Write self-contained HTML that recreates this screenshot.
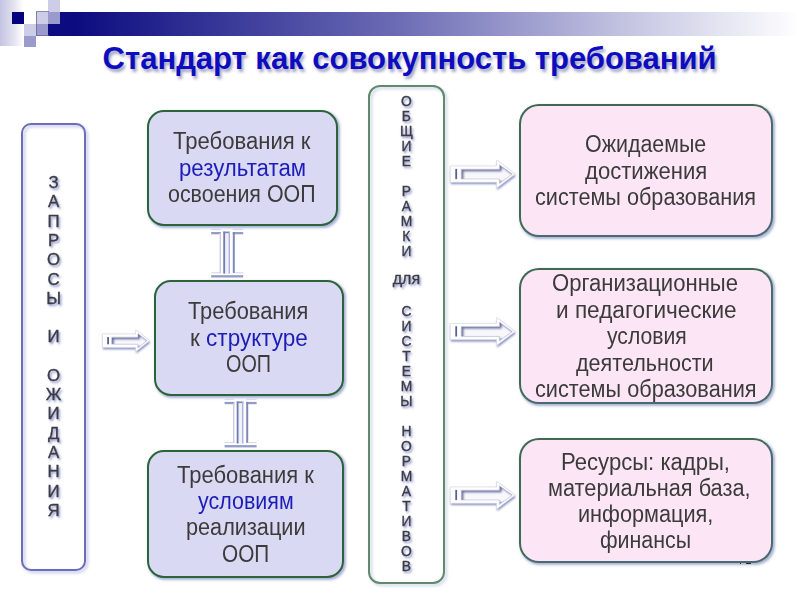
<!DOCTYPE html>
<html><head><meta charset="utf-8">
<style>
*{margin:0;padding:0;box-sizing:border-box}
html,body{width:800px;height:600px;overflow:hidden;background:#fff}
body{position:relative;font-family:"Liberation Sans",sans-serif}
.a{position:absolute}
.grad{left:0;top:0;width:23px;height:46px;background:linear-gradient(to right,#c4c4e2,#e2e2f0 60%,#fff)}
.sq{position:absolute;width:12px;height:12px}
.bar{left:60px;top:11.5px;width:740px;height:24px;background:linear-gradient(to right,#0c0c80 0%,#0c0c80 2%,#6a6ab4 45%,#c8c8e4 78%,#fff 100%)}
.title{top:41px;font-size:31px;font-weight:bold;color:#0d0dc0;text-shadow:2px 3px 3px rgba(90,90,150,.55);white-space:nowrap;line-height:36px}
.box{position:absolute;border-radius:17px;border:2px solid #2b6439;background:#d9d9f3;box-shadow:1.5px 1.5px 2.5px rgba(100,110,185,.55)}
.sh{position:absolute;border:2px solid rgba(140,150,210,.6);filter:blur(1.4px)}
.pink{background:#fce5f4;border-radius:20px;border-color:#3f6a50 #4a6a70 #4a6a70 #3f6a50;box-shadow:1.5px 1.5px 2.5px rgba(100,120,175,.55)}
.t{position:absolute;font-size:23.0px;line-height:1;color:#3b3b3b;white-space:pre;transform-origin:0 0}
.b{color:#1c1cb8}
.v{position:absolute;width:60px;text-align:center;line-height:1;color:#3c3c46;-webkit-text-stroke:0.35px #3c3c46;text-shadow:1.5px 2px 2.5px rgba(60,70,165,.7);transform:translateZ(0)}
</style></head><body>
<div class="a grad"></div>
<div class="a bar"></div>
<div class="sq" style="left:11.5px;top:12px;background:#03037e"></div>
<div class="sq" style="left:24px;top:24px;background:#cdcde8"></div>
<div class="sq" style="left:24px;top:36px;height:11px;background:#9a9acc"></div>
<div class="sq" style="left:36px;top:11.5px;background:#cdcde8"></div>
<div class="sq" style="left:36px;top:23.5px;background:#9a9acc"></div>
<div class="sq" style="left:48px;top:0;height:11.5px;background:#cdcde8"></div>
<div class="sq" style="left:48px;top:11.5px;background:#9a9acc"></div>
<div class="sq" style="left:48px;top:23.5px;background:#0c0c80"></div>
<div class="a" style="left:36px;top:11px;width:13px;height:25px;border:1px solid rgba(100,100,150,.75);border-right:none"></div>

<div class="a title" style="left:102.6px;">Стандарт как совокупность требований</div>

<div class="sh" style="left:23.4px;top:124.9px;width:64.7px;height:448.6px;border-radius:10px"></div>
<div class="a" style="left:21.2px;top:122.7px;width:64.7px;height:448.6px;border:2px solid #6c6cb8;border-radius:10px"></div>
<div class="box" style="left:146.9px;top:110px;width:191.5px;height:115.5px"></div>
<div class="box" style="left:153.7px;top:280.3px;width:190.6px;height:115.4px"></div>
<div class="box" style="left:147.3px;top:450.3px;width:197px;height:127.6px"></div>
<div class="sh" style="left:370px;top:87.2px;width:77.4px;height:498.9px;border-radius:12px;border-color:rgba(150,165,210,.55)"></div>
<div class="a" style="left:367.8px;top:85px;width:77.4px;height:498.9px;border:2px solid #5f8a6c;border-radius:12px"></div>
<div class="box pink" style="left:518.8px;top:104.1px;width:254.5px;height:133.2px"></div>
<div class="box pink" style="left:519px;top:268.3px;width:254px;height:135.7px"></div>
<div class="box pink" style="left:519.3px;top:438.3px;width:253.7px;height:124.4px"></div>

<div class="a" style="left:739.6px;top:562.6px;width:1.4px;height:1.4px;background:#1a2a28"></div>
<div class="a" style="left:746px;top:562.8px;width:4.6px;height:1.3px;background:#1a2a28;border-radius:1px"></div>
<div class="v" style="left:23.6px;top:175.13px;font-size:16.8px">З</div>
<div class="v" style="left:23.6px;top:194.41px;font-size:16.8px">А</div>
<div class="v" style="left:23.6px;top:213.69px;font-size:16.8px">П</div>
<div class="v" style="left:23.6px;top:232.97px;font-size:16.8px">Р</div>
<div class="v" style="left:23.6px;top:252.25px;font-size:16.8px">О</div>
<div class="v" style="left:23.6px;top:271.53px;font-size:16.8px">С</div>
<div class="v" style="left:23.6px;top:290.81px;font-size:16.8px">Ы</div>
<div class="v" style="left:23.6px;top:329.37px;font-size:16.8px">И</div>
<div class="v" style="left:23.6px;top:367.93px;font-size:16.8px">О</div>
<div class="v" style="left:23.6px;top:387.21px;font-size:16.8px">Ж</div>
<div class="v" style="left:23.6px;top:406.49px;font-size:16.8px">И</div>
<div class="v" style="left:23.6px;top:425.77px;font-size:16.8px">Д</div>
<div class="v" style="left:23.6px;top:445.05px;font-size:16.8px">А</div>
<div class="v" style="left:23.6px;top:464.33px;font-size:16.8px">Н</div>
<div class="v" style="left:23.6px;top:483.61px;font-size:16.8px">И</div>
<div class="v" style="left:23.6px;top:502.89px;font-size:16.8px">Я</div>
<div class="v m" style="left:376.4px;top:94.51px;font-size:13.8px">О</div>
<div class="v m" style="left:376.4px;top:109.52px;font-size:13.8px">Б</div>
<div class="v m" style="left:376.4px;top:124.53px;font-size:13.8px">Щ</div>
<div class="v m" style="left:376.4px;top:139.54px;font-size:13.8px">И</div>
<div class="v m" style="left:376.4px;top:154.55px;font-size:13.8px">Е</div>
<div class="v m" style="left:376.4px;top:184.57px;font-size:13.8px">Р</div>
<div class="v m" style="left:376.4px;top:199.58px;font-size:13.8px">А</div>
<div class="v m" style="left:376.4px;top:214.59px;font-size:13.8px">М</div>
<div class="v m" style="left:376.4px;top:229.60px;font-size:13.8px">К</div>
<div class="v m" style="left:376.4px;top:244.61px;font-size:13.8px">И</div>
<div class="v m" style="left:376.4px;top:271.43px;font-size:16px">для</div>
<div class="v m" style="left:376.4px;top:304.65px;font-size:13.8px">С</div>
<div class="v m" style="left:376.4px;top:319.66px;font-size:13.8px">И</div>
<div class="v m" style="left:376.4px;top:334.67px;font-size:13.8px">С</div>
<div class="v m" style="left:376.4px;top:349.68px;font-size:13.8px">Т</div>
<div class="v m" style="left:376.4px;top:364.69px;font-size:13.8px">Е</div>
<div class="v m" style="left:376.4px;top:379.70px;font-size:13.8px">М</div>
<div class="v m" style="left:376.4px;top:394.71px;font-size:13.8px">Ы</div>
<div class="v m" style="left:376.4px;top:424.73px;font-size:13.8px">Н</div>
<div class="v m" style="left:376.4px;top:439.74px;font-size:13.8px">О</div>
<div class="v m" style="left:376.4px;top:454.75px;font-size:13.8px">Р</div>
<div class="v m" style="left:376.4px;top:469.76px;font-size:13.8px">М</div>
<div class="v m" style="left:376.4px;top:484.77px;font-size:13.8px">А</div>
<div class="v m" style="left:376.4px;top:499.78px;font-size:13.8px">Т</div>
<div class="v m" style="left:376.4px;top:514.79px;font-size:13.8px">И</div>
<div class="v m" style="left:376.4px;top:529.80px;font-size:13.8px">В</div>
<div class="v m" style="left:376.4px;top:544.81px;font-size:13.8px">О</div>
<div class="v m" style="left:376.4px;top:559.82px;font-size:13.8px">В</div>
<div class="t" style="left:173.00px;top:130.00px;transform:scaleX(0.9597)">Требования к</div>
<div class="t" style="left:178.83px;top:157.00px;transform:scaleX(0.9667)"><span class="b">результатам</span></div>
<div class="t" style="left:168.27px;top:183.00px;transform:scaleX(0.9308)">освоения ООП</div>
<div class="t" style="left:188.20px;top:300.00px;transform:scaleX(0.9492)">Требования</div>
<div class="t" style="left:190.02px;top:327.00px;transform:scaleX(0.9782)">к <span class="b">структуре</span></div>
<div class="t" style="left:225.94px;top:353.00px;transform:scaleX(0.8600)">ООП</div>
<div class="t" style="left:177.00px;top:464.00px;transform:scaleX(0.9556)">Требования к</div>
<div class="t" style="left:198.40px;top:490.00px;transform:scaleX(0.9327)"><span class="b">условиям</span></div>
<div class="t" style="left:185.96px;top:516.00px;transform:scaleX(0.9424)">реализации</div>
<div class="t" style="left:222.30px;top:543.00px;transform:scaleX(0.9020)">ООП</div>
<div class="t" style="left:584.87px;top:133.00px;transform:scaleX(0.9302)">Ожидаемые</div>
<div class="t" style="left:584.80px;top:160.00px;transform:scaleX(0.9603)">достижения</div>
<div class="t" style="left:535.06px;top:186.00px;transform:scaleX(0.9412)">системы образования</div>
<div class="t" style="left:552.24px;top:272.00px;transform:scaleX(0.9599)">Организационные</div>
<div class="t" style="left:555.62px;top:299.00px;transform:scaleX(0.9813)">и педагогические</div>
<div class="t" style="left:606.50px;top:325.00px;transform:scaleX(0.9186)">условия</div>
<div class="t" style="left:576.10px;top:352.00px;transform:scaleX(0.9377)">деятельности</div>
<div class="t" style="left:534.66px;top:378.00px;transform:scaleX(0.9438)">системы образования</div>
<div class="t" style="left:561.08px;top:451.00px;transform:scaleX(0.9605)">Ресурсы: кадры,</div>
<div class="t" style="left:548.25px;top:477.00px;transform:scaleX(0.9455)">материальная база,</div>
<div class="t" style="left:578.36px;top:503.00px;transform:scaleX(0.9433)">информация,</div>
<div class="t" style="left:600.07px;top:529.00px;transform:scaleX(0.9302)">финансы</div>
<svg class="a" style="left:0;top:0" width="800" height="600" viewBox="0 0 800 600">
<defs><filter id="bl" x="-20%" y="-40%" width="140%" height="180%"><feGaussianBlur stdDeviation="1.1"/></filter>
<filter id="bl2" x="-50%" y="-50%" width="200%" height="200%"><feGaussianBlur stdDeviation="0.4"/></filter>
<filter id="bl3" x="-20%" y="-40%" width="140%" height="180%"><feGaussianBlur stdDeviation="0.9"/></filter></defs>
<path d="M450.2,165.9 L496.6,165.9 L496.6,160.0 L515.3,174.1 L496.6,188.2 L496.6,182.3 L450.2,182.3 Z" fill="#5a64ac" opacity=".75" filter="url(#bl)" transform="translate(0.6,1.8)"/>
<path d="M450.2,165.9 L496.6,165.9 L496.6,160.0 L515.3,174.1 L496.6,188.2 L496.6,182.3 L450.2,182.3 Z" fill="#fff" stroke="#d6d6e2" stroke-width=".7"/>
<clipPath id="c0"><path d="M461.2,169.2 L499.4,169.2 L499.4,164.7 L512.5,174.1 L499.4,183.5 L499.4,179.0 L461.2,179.0 Z"/></clipPath>
<g clip-path="url(#c0)"><path d="M461.2,169.2 L499.4,169.2 L499.4,164.7 L512.5,174.1 L499.4,183.5 L499.4,179.0 L461.2,179.0 Z" fill="#646c9c"/><path d="M461.2,169.2 L499.4,169.2 L499.4,164.7 L512.5,174.1 L499.4,183.5 L499.4,179.0 L461.2,179.0 Z" fill="#f7f7fc" transform="translate(2.2,2)" filter="url(#bl3)"/></g>
<path d="M461.2,169.2 L499.4,169.2 L499.4,164.7 L512.5,174.1 L499.4,183.5 L499.4,179.0 L461.2,179.0 Z" fill="none" stroke="#b8bbd2" stroke-width=".6"/>
<rect x="455.3" y="168.9" width="1.8" height="10.2" fill="#5a5f8c" filter="url(#bl2)"/>
<path d="M450.2,323.3 L496.6,323.3 L496.6,317.4 L515.3,331.5 L496.6,345.6 L496.6,339.7 L450.2,339.7 Z" fill="#5a64ac" opacity=".75" filter="url(#bl)" transform="translate(0.6,1.8)"/>
<path d="M450.2,323.3 L496.6,323.3 L496.6,317.4 L515.3,331.5 L496.6,345.6 L496.6,339.7 L450.2,339.7 Z" fill="#fff" stroke="#d6d6e2" stroke-width=".7"/>
<clipPath id="c1"><path d="M461.2,326.6 L499.4,326.6 L499.4,322.1 L512.5,331.5 L499.4,340.9 L499.4,336.4 L461.2,336.4 Z"/></clipPath>
<g clip-path="url(#c1)"><path d="M461.2,326.6 L499.4,326.6 L499.4,322.1 L512.5,331.5 L499.4,340.9 L499.4,336.4 L461.2,336.4 Z" fill="#646c9c"/><path d="M461.2,326.6 L499.4,326.6 L499.4,322.1 L512.5,331.5 L499.4,340.9 L499.4,336.4 L461.2,336.4 Z" fill="#f7f7fc" transform="translate(2.2,2)" filter="url(#bl3)"/></g>
<path d="M461.2,326.6 L499.4,326.6 L499.4,322.1 L512.5,331.5 L499.4,340.9 L499.4,336.4 L461.2,336.4 Z" fill="none" stroke="#b8bbd2" stroke-width=".6"/>
<rect x="455.3" y="326.3" width="1.8" height="10.2" fill="#5a5f8c" filter="url(#bl2)"/>
<path d="M450.2,486.9 L496.6,486.9 L496.6,481.1 L515.3,495.1 L496.6,509.2 L496.6,503.3 L450.2,503.3 Z" fill="#5a64ac" opacity=".75" filter="url(#bl)" transform="translate(0.6,1.8)"/>
<path d="M450.2,486.9 L496.6,486.9 L496.6,481.1 L515.3,495.1 L496.6,509.2 L496.6,503.3 L450.2,503.3 Z" fill="#fff" stroke="#d6d6e2" stroke-width=".7"/>
<clipPath id="c2"><path d="M461.2,490.2 L499.4,490.2 L499.4,485.7 L512.5,495.1 L499.4,504.5 L499.4,500.0 L461.2,500.0 Z"/></clipPath>
<g clip-path="url(#c2)"><path d="M461.2,490.2 L499.4,490.2 L499.4,485.7 L512.5,495.1 L499.4,504.5 L499.4,500.0 L461.2,500.0 Z" fill="#646c9c"/><path d="M461.2,490.2 L499.4,490.2 L499.4,485.7 L512.5,495.1 L499.4,504.5 L499.4,500.0 L461.2,500.0 Z" fill="#f7f7fc" transform="translate(2.2,2)" filter="url(#bl3)"/></g>
<path d="M461.2,490.2 L499.4,490.2 L499.4,485.7 L512.5,495.1 L499.4,504.5 L499.4,500.0 L461.2,500.0 Z" fill="none" stroke="#b8bbd2" stroke-width=".6"/>
<rect x="455.3" y="489.9" width="1.8" height="10.2" fill="#5a5f8c" filter="url(#bl2)"/>
<path d="M102.4,333.9 L135.7,333.9 L135.7,329.6 L149.7,340.7 L135.7,351.8 L135.7,347.5 L102.4,347.5 Z" fill="#5a64ac" opacity=".75" filter="url(#bl)" transform="translate(0.6,1.8)"/>
<path d="M102.4,333.9 L135.7,333.9 L135.7,329.6 L149.7,340.7 L135.7,351.8 L135.7,347.5 L102.4,347.5 Z" fill="#fff" stroke="#d6d6e2" stroke-width=".7"/>
<clipPath id="c9"><path d="M111.6,337.2 L137.9,337.2 L137.9,333.4 L147.2,340.7 L137.9,348.0 L137.9,344.2 L111.6,344.2 Z"/></clipPath>
<g clip-path="url(#c9)"><path d="M111.6,337.2 L137.9,337.2 L137.9,333.4 L147.2,340.7 L137.9,348.0 L137.9,344.2 L111.6,344.2 Z" fill="#646c9c"/><path d="M111.6,337.2 L137.9,337.2 L137.9,333.4 L147.2,340.7 L137.9,348.0 L137.9,344.2 L111.6,344.2 Z" fill="#f7f7fc" transform="translate(2.2,2)" filter="url(#bl3)"/></g>
<path d="M111.6,337.2 L137.9,337.2 L137.9,333.4 L147.2,340.7 L137.9,348.0 L137.9,344.2 L111.6,344.2 Z" fill="none" stroke="#b8bbd2" stroke-width=".6"/>
<rect x="107.2" y="337.1" width="1.8" height="7.2" fill="#5a5f8c" filter="url(#bl2)"/>
<g transform="translate(0.0,0.0)" filter="url(#bl2)">
<rect x="211.2" y="228.9" width="9.5" height=".7" fill="#c4c6da"/><rect x="232.6" y="228.9" width="10.6" height=".7" fill="#c4c6da"/>
<rect x="211.2" y="232" width="9.8" height="2.3" fill="#959bc6"/><rect x="232.8" y="232" width="10.4" height="2.3" fill="#959bc6"/>
<rect x="219.6" y="233" width="1.4" height="40" fill="#c8cbe6"/>
<rect x="223.3" y="231.6" width="6.7" height="42" fill="#eef0fa"/>
<rect x="223.3" y="231.6" width="1.8" height="42" fill="#737aae"/><rect x="223.3" y="231.6" width="6.7" height="1.6" fill="#7e86b8"/><rect x="228.6" y="232" width="1.4" height="41.6" fill="#aeb2d8"/>
<rect x="232.8" y="232" width="2" height="41" fill="#8088b8"/>
<rect x="211.2" y="272.4" width="9.8" height=".8" fill="#c8cbe2"/><rect x="234.5" y="272.4" width="8.7" height=".8" fill="#c8cbe2"/>
<rect x="211.2" y="275.2" width="32" height="2.3" fill="#959bc6"/>
</g>
<g transform="translate(13.4,169.9)" filter="url(#bl2)">
<rect x="211.2" y="228.9" width="9.5" height=".7" fill="#c4c6da"/><rect x="232.6" y="228.9" width="10.6" height=".7" fill="#c4c6da"/>
<rect x="211.2" y="232" width="9.8" height="2.3" fill="#959bc6"/><rect x="232.8" y="232" width="10.4" height="2.3" fill="#959bc6"/>
<rect x="219.6" y="233" width="1.4" height="40" fill="#c8cbe6"/>
<rect x="223.3" y="231.6" width="6.7" height="42" fill="#eef0fa"/>
<rect x="223.3" y="231.6" width="1.8" height="42" fill="#737aae"/><rect x="223.3" y="231.6" width="6.7" height="1.6" fill="#7e86b8"/><rect x="228.6" y="232" width="1.4" height="41.6" fill="#aeb2d8"/>
<rect x="232.8" y="232" width="2" height="41" fill="#8088b8"/>
<rect x="211.2" y="272.4" width="9.8" height=".8" fill="#c8cbe2"/><rect x="234.5" y="272.4" width="8.7" height=".8" fill="#c8cbe2"/>
<rect x="211.2" y="275.2" width="32" height="2.3" fill="#959bc6"/>
</g>
</svg>
</body></html>
